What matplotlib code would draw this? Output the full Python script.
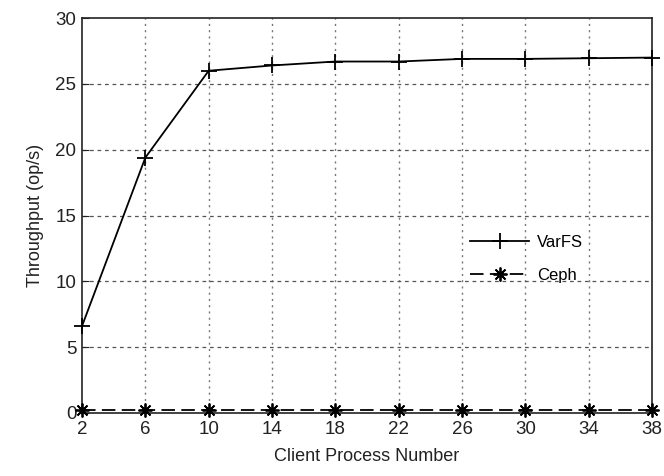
import matplotlib
matplotlib.use("Agg")
import matplotlib.pyplot as plt

clients = [2, 6, 10, 14, 18, 22, 26, 30, 34, 38]
varfs = [6.6, 19.4, 26.0, 26.4, 26.7, 26.7, 26.9, 26.9, 26.95, 27.0]
ceph = [0.2, 0.2, 0.2, 0.2, 0.2, 0.2, 0.2, 0.2, 0.2, 0.2]
yticks = [0, 5, 10, 15, 20, 25, 30]

plt.rcParams['font.family'] = ['Liberation Sans', 'DejaVu Sans']

fig = plt.figure(figsize=(6.64, 4.76), dpi=100)
ax = fig.add_axes([0.1235, 0.1324, 0.8585, 0.8296])

ax.plot(clients, varfs, color='black', lw=1.3, marker='+', ms=11, mew=1.3,
        label='VarFS', clip_on=False, zorder=3)
ax.plot(clients, ceph, color='black', lw=1.3, ls=(0, (7.5, 3.5)), marker=(8, 2, 0),
        ms=10, mew=1.3, label='Ceph', clip_on=False, zorder=3)

ax.set_xlim(2, 38)
ax.set_ylim(0, 30)
ax.set_xticks(clients)
ax.set_yticks(yticks)

for x in clients[1:-1]:
    ax.axvline(x, color='#777777', lw=1.0, ls=(0, (1.5, 3)), zorder=1)
for y in yticks[1:-1]:
    ax.axhline(y, color='#555555', lw=0.9, ls=(0, (3, 3)), zorder=1)

ax.tick_params(direction='in', length=5, labelsize=13.5, colors='#222222', pad=4)
ax.tick_params(axis='x', pad=6)
for s in ax.spines.values():
    s.set_linewidth(1.2)
    s.set_color('#222222')

ax.set_xlabel('Client Process Number', fontsize=13, color='#222222', labelpad=7)
ax.set_ylabel('Throughput (op/s)', fontsize=13, color='#222222', labelpad=8)

ax.legend(loc='center left', bbox_to_anchor=(0.655, 0.39), frameon=False,
          fontsize=12, handlelength=3.5, labelspacing=1.1, handletextpad=0.5)

fig.savefig('out.png', dpi=100)
